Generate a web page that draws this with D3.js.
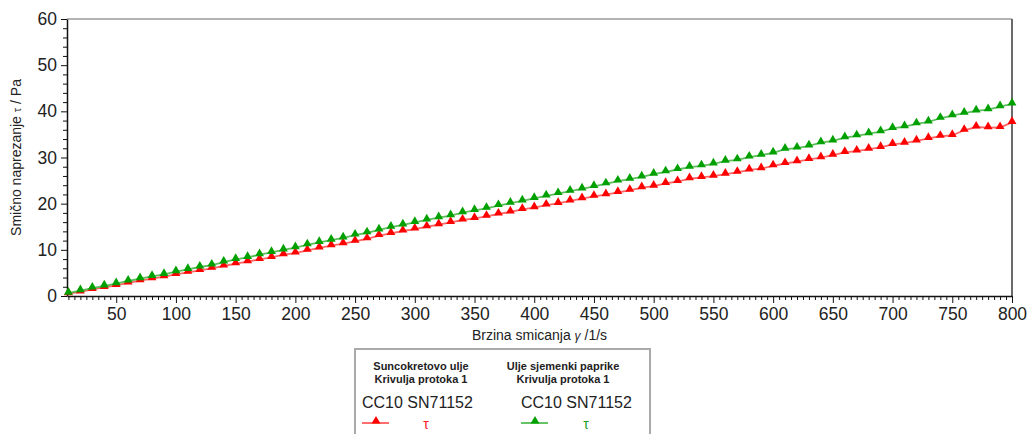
<!DOCTYPE html>
<html><head><meta charset="utf-8">
<script src="https://cdn.jsdelivr.net/npm/d3@7"></script>
<style>
html,body{margin:0;padding:0;background:#fff;}
svg{display:block;font-family:"Liberation Sans",Arial,sans-serif;}
</style></head>
<body>
<svg id="c" width="1033" height="434"></svg>
<script>
// shear rate (1/s)
const shearRate = [10,20,30,40,50,60,70,80,90,100,110,120,130,140,150,160,170,180,190,200,
  210,220,230,240,250,260,270,280,290,300,310,320,330,340,350,360,370,380,390,400,
  410,420,430,440,450,460,470,480,490,500,510,520,530,540,550,560,570,580,590,600,
  610,620,630,640,650,660,670,680,690,700,710,720,730,740,750,760,770,780,790,800];
// Suncokretovo ulje – shear stress (Pa)
const sunflower = [0.5,0.87,1.44,1.88,2.31,2.82,3.32,3.75,4.19,4.69,5.13,5.56,6.0,6.5,7.0,7.43,7.94,8.37,8.95,9.3,
  9.9,10.4,10.9,11.33,11.85,12.4,13.1,13.57,14.08,14.5,15.0,15.45,15.95,16.46,16.8,17.26,17.76,18.2,18.77,19.13,
  19.7,20.07,20.6,21.08,21.6,21.95,22.45,22.9,23.46,23.8,24.4,24.8,25.4,25.7,25.95,26.4,26.8,27.3,27.6,28.2,
  28.7,29.1,29.6,29.96,30.5,31.1,31.4,31.8,32.2,32.85,33.1,33.6,34.15,34.6,34.8,35.9,36.6,36.45,36.5,37.6];
// Ulje sjemenki paprike – shear stress (Pa)
const pepperSeed = [0.6,1.15,1.73,2.17,2.67,3.25,3.75,4.26,4.69,5.27,5.77,6.28,6.71,7.36,7.94,8.37,8.95,9.46,10.0,10.46,
  11.1,11.6,12.1,12.6,13.2,13.7,14.3,14.9,15.4,15.95,16.5,16.96,17.4,18.05,18.55,19.0,19.6,20.1,20.6,21.15,
  21.7,22.2,22.7,23.2,23.75,24.3,24.9,25.3,25.8,26.4,26.9,27.4,27.9,28.2,28.6,29.2,29.5,30.1,30.5,31.0,
  31.8,32.05,32.5,33.2,33.6,34.3,34.7,35.15,35.6,36.3,36.7,37.3,37.7,38.5,39.05,39.6,40.1,40.35,41.0,41.6];

const xTicks = [50,100,150,200,250,300,350,400,450,500,550,600,650,700,750,800];
const yTicks = [0,10,20,30,40,50,60];
const seriesNames = ["Suncokretovo ulje","Ulje sjemenki paprike"];
const seriesSub = "Krivulja protoka 1";
const deviceName = "CC10 SN71152";

const svg = d3.select("#c");
const L = 67, R = 1012, T = 19, B = 296;
const x = d3.scaleLinear().domain([8.8, 800]).range([L, R]);
const y = d3.scaleLinear().domain([0, 60]).range([B, T]);
const txt = "#222";

// frame (top & right)
svg.append("line").attr("x1",L).attr("x2",R).attr("y1",T).attr("y2",T).attr("stroke","#6a6a6a").attr("stroke-width",1.2);
svg.append("line").attr("x1",R).attr("x2",R).attr("y1",T).attr("y2",B).attr("stroke","#6a6a6a").attr("stroke-width",2);

// minor ticks
const xMinor = d3.range(10, 801, 5).filter(v => v % 50 !== 0);
const gxm = svg.append("g").attr("transform",`translate(0,${B})`)
  .call(d3.axisBottom(x).tickValues(xMinor).tickSize(4).tickFormat(""));
gxm.select(".domain").remove();
gxm.selectAll("line").attr("stroke","#111");
const yMinor = d3.range(2, 60, 2).filter(v => v % 10 !== 0);
const gym = svg.append("g").attr("transform",`translate(${L},0)`)
  .call(d3.axisLeft(y).tickValues(yMinor).tickSize(4).tickFormat(""));
gym.select(".domain").remove();
gym.selectAll("line").attr("stroke","#111");

// major axes
const gx = svg.append("g").attr("transform",`translate(0,${B})`)
  .call(d3.axisBottom(x).tickValues(xTicks).tickSize(7).tickSizeOuter(0).tickPadding(5));
gx.select(".domain").attr("stroke","#111").attr("stroke-width",1.5);
gx.selectAll("line").attr("stroke","#111");
gx.selectAll("text").attr("font-size",17.5).attr("fill",txt).attr("font-family","Liberation Sans, Arial, sans-serif");

const gy = svg.append("g").attr("transform",`translate(${L},0)`)
  .call(d3.axisLeft(y).tickValues(yTicks).tickSize(6).tickSizeOuter(0).tickPadding(4));
gy.select(".domain").attr("stroke","#111").attr("stroke-width",1.5);
gy.selectAll("line").attr("stroke","#111");
gy.selectAll("text").attr("font-size",17.5).attr("fill",txt).attr("font-family","Liberation Sans, Arial, sans-serif");

// axis titles
svg.append("text").attr("x",(L+R)/2).attr("y",340).attr("text-anchor","middle")
  .attr("font-size",14).attr("fill",txt)
  .html('Brzina smicanja <tspan font-size="12" font-style="italic">γ</tspan> /1/s');
svg.append("text").attr("transform",`translate(21,${(T+B)/2}) rotate(-90)`).attr("text-anchor","middle")
  .attr("font-size",14).attr("fill",txt)
  .html('Smično naprezanje <tspan font-size="11">τ</tspan> / Pa');

// series
const series = [
  {vals: sunflower, line:"#ff4a4a", mark:"#ff0000"},
  {vals: pepperSeed, line:"#3fb43f", mark:"#00a000"}
];
const tri = d3.symbol().type(d3.symbolTriangle).size(34);
const plot = svg.append("g");
series.forEach(s => {
  const data = shearRate.map((r,i)=>[r, s.vals[i]]);
  plot.append("path").datum(data)
    .attr("fill","none").attr("stroke",s.line).attr("stroke-width",1.8).attr("stroke-opacity",0.85)
    .attr("d", d3.line().x(d=>x(d[0])).y(d=>y(d[1])));
  plot.selectAll(null).data(data).enter().append("path")
    .attr("d", tri).attr("fill", s.mark)
    .attr("transform", d=>`translate(${x(d[0])},${y(d[1])-1})`);
});

// legend
const lg = svg.append("g");
lg.append("rect").attr("x",355).attr("y",349).attr("width",295).attr("height",100)
  .attr("fill","#fff").attr("stroke","#aaaaaa").attr("stroke-width",2);
const cols = [
  {cx:421, x0:362, tx:426, line:"#ff4a4a", mark:"#ff0000", tau:"#ff2020"},
  {cx:563, x0:521, tx:586, line:"#3fb43f", mark:"#00a000", tau:"#20a020"}
];
cols.forEach((c,i)=>{
  lg.append("text").attr("x",c.cx).attr("y",370).attr("text-anchor","middle")
    .attr("font-size",11).attr("font-weight","bold").attr("fill",txt).text(seriesNames[i]);
  lg.append("text").attr("x",c.cx).attr("y",383).attr("text-anchor","middle")
    .attr("font-size",11).attr("font-weight","bold").attr("fill",txt).text(seriesSub);
  lg.append("text").attr("x",c.x0).attr("y",408)
    .attr("font-size",16).attr("fill",txt).text(deviceName);
  lg.append("line").attr("x1",c.x0).attr("x2",c.x0+27).attr("y1",423).attr("y2",423)
    .attr("stroke",c.line).attr("stroke-width",1.6);
  lg.append("path").attr("d",tri).attr("fill",c.mark).attr("transform",`translate(${c.x0+14},421)`);
  lg.append("text").attr("x",c.tx).attr("y",429).attr("text-anchor","middle")
    .attr("font-size",14).attr("fill",c.tau).text("τ");
});
</script>
</body></html>
